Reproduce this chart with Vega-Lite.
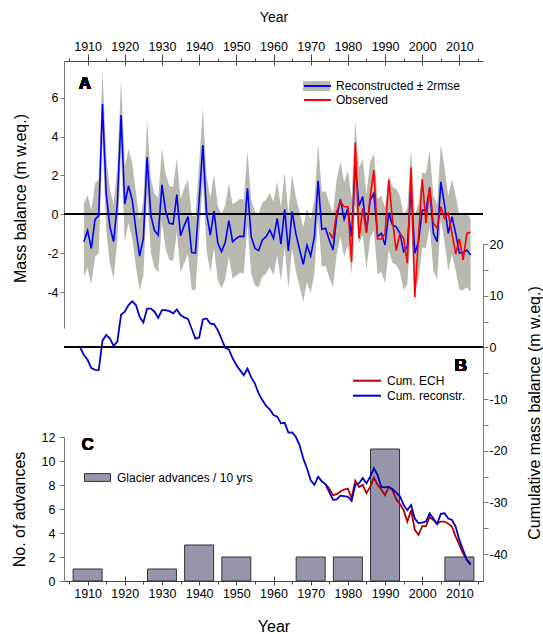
{
"$schema": "https://vega.github.io/schema/vega-lite/v6.json",
"width": 419, "height": 520,
"autosize": "none",
"padding": {"left": 64, "top": 61, "right": 60, "bottom": 53},
"config": {
 "font": "Liberation Sans",
 "view": {"stroke": null},
 "axis": {"grid": false, "labelFont": "Liberation Sans", "titleFont": "Liberation Sans", "labelFontSize": 12.5, "titleFontSize": 16, "titleFontWeight": "normal", "labelColor": "#000", "titleColor": "#000", "domainColor": "#777", "tickColor": "#777"},
 "legend": {"labelFont": "Liberation Sans", "labelFontSize": 12, "labelColor": "#000", "padding": 0, "titlePadding": 0}
},
"datasets": {
 "mb": [
  {"year":1909,"rec":-1.41,"lo":-3.2,"hi":0.56},
  {"year":1910,"rec":-0.84,"lo":-2.75,"hi":0.99},
  {"year":1911,"rec":-1.75,"lo":-3.6,"hi":0.22},
  {"year":1912,"rec":-0.26,"lo":-2.2,"hi":1.6},
  {"year":1913,"rec":-0.07,"lo":-2.0,"hi":1.8},
  {"year":1914,"rec":5.67,"lo":3.8,"hi":7.46},
  {"year":1915,"rec":1.08,"lo":-0.85,"hi":3.0},
  {"year":1916,"rec":-0.64,"lo":-2.55,"hi":1.3},
  {"year":1917,"rec":-1.41,"lo":-3.3,"hi":0.5},
  {"year":1918,"rec":0.56,"lo":-1.35,"hi":2.45},
  {"year":1919,"rec":5.11,"lo":3.2,"hi":6.91},
  {"year":1920,"rec":0.53,"lo":-1.4,"hi":2.5},
  {"year":1921,"rec":1.46,"lo":-0.45,"hi":3.35},
  {"year":1922,"rec":0.74,"lo":-1.2,"hi":2.65},
  {"year":1923,"rec":-0.81,"lo":-2.7,"hi":1.1},
  {"year":1924,"rec":-2.15,"lo":-3.93,"hi":-0.25},
  {"year":1925,"rec":-1.24,"lo":-3.15,"hi":0.7},
  {"year":1926,"rec":2.93,"lo":1.0,"hi":4.85},
  {"year":1927,"rec":-0.04,"lo":-1.95,"hi":1.85},
  {"year":1928,"rec":-0.84,"lo":-2.75,"hi":1.05},
  {"year":1929,"rec":-1.07,"lo":-3.0,"hi":0.85},
  {"year":1930,"rec":1.52,"lo":-0.4,"hi":3.4},
  {"year":1931,"rec":0.14,"lo":-1.8,"hi":2.05},
  {"year":1932,"rec":-0.46,"lo":-2.35,"hi":1.45},
  {"year":1933,"rec":-0.5,"lo":-2.4,"hi":1.4},
  {"year":1934,"rec":1.01,"lo":-0.9,"hi":2.9},
  {"year":1935,"rec":-1.1,"lo":-3.0,"hi":0.8},
  {"year":1936,"rec":-0.58,"lo":-2.5,"hi":1.35},
  {"year":1937,"rec":-0.12,"lo":-2.05,"hi":1.8},
  {"year":1938,"rec":-1.97,"lo":-3.9,"hi":-0.05},
  {"year":1939,"rec":-2.0,"lo":-3.9,"hi":-0.1},
  {"year":1940,"rec":0.7,"lo":-1.2,"hi":2.6},
  {"year":1941,"rec":3.57,"lo":1.7,"hi":5.47},
  {"year":1942,"rec":0.05,"lo":-1.85,"hi":1.95},
  {"year":1943,"rec":-1.07,"lo":-3.0,"hi":0.85},
  {"year":1944,"rec":0.17,"lo":-1.75,"hi":2.05},
  {"year":1945,"rec":-1.46,"lo":-3.35,"hi":0.45},
  {"year":1946,"rec":-1.92,"lo":-3.8,"hi":0.0},
  {"year":1947,"rec":-1.46,"lo":-3.35,"hi":0.45},
  {"year":1948,"rec":-0.33,"lo":-2.2,"hi":1.6},
  {"year":1949,"rec":-1.41,"lo":-3.3,"hi":0.5},
  {"year":1950,"rec":-1.24,"lo":-3.15,"hi":0.65},
  {"year":1951,"rec":-1.12,"lo":-3.0,"hi":0.8},
  {"year":1952,"rec":-1.15,"lo":-3.05,"hi":0.75},
  {"year":1953,"rec":1.34,"lo":-0.55,"hi":3.25},
  {"year":1954,"rec":-1.15,"lo":-3.05,"hi":0.75},
  {"year":1955,"rec":-1.75,"lo":-3.65,"hi":0.15},
  {"year":1956,"rec":-1.87,"lo":-3.75,"hi":0.05},
  {"year":1957,"rec":-1.32,"lo":-3.2,"hi":0.6},
  {"year":1958,"rec":-1.15,"lo":-3.05,"hi":0.75},
  {"year":1959,"rec":-0.81,"lo":-2.7,"hi":1.1},
  {"year":1960,"rec":-1.24,"lo":-3.15,"hi":0.65},
  {"year":1961,"rec":-0.21,"lo":-2.1,"hi":1.7},
  {"year":1962,"rec":-1.53,"lo":-3.45,"hi":0.35},
  {"year":1963,"rec":0.26,"lo":-1.65,"hi":2.15},
  {"year":1964,"rec":-1.89,"lo":-3.8,"hi":0.0},
  {"year":1965,"rec":0.14,"lo":-1.75,"hi":2.05},
  {"year":1966,"rec":-0.98,"lo":-2.9,"hi":0.9},
  {"year":1967,"rec":-1.8,"lo":-3.7,"hi":0.1},
  {"year":1968,"rec":-2.57,"lo":-4.5,"hi":-0.65},
  {"year":1969,"rec":-1.58,"lo":-3.5,"hi":0.3},
  {"year":1970,"rec":-2.14,"lo":-4.05,"hi":-0.25},
  {"year":1971,"rec":-1.15,"lo":-3.05,"hi":0.75},
  {"year":1972,"rec":1.73,"lo":-0.2,"hi":3.65},
  {"year":1973,"rec":-0.77,"lo":-2.7,"hi":1.15},
  {"year":1974,"rec":-0.72,"lo":-2.65,"hi":1.2},
  {"year":1975,"rec":-1.32,"lo":-3.25,"hi":0.6,"obs":-0.93},
  {"year":1976,"rec":-1.84,"lo":-3.75,"hi":0.05,"obs":-1.24},
  {"year":1977,"rec":-0.12,"lo":-2.05,"hi":1.8,"obs":0.14},
  {"year":1978,"rec":0.77,"lo":-1.15,"hi":2.7,"obs":0.65},
  {"year":1979,"rec":-0.26,"lo":-2.2,"hi":1.65,"obs":0.39},
  {"year":1980,"rec":0.31,"lo":-1.6,"hi":2.25,"obs":0.39},
  {"year":1981,"rec":-1.15,"lo":-3.1,"hi":0.8,"obs":-2.44},
  {"year":1982,"rec":2.54,"lo":0.5,"hi":4.76,"obs":3.69},
  {"year":1983,"rec":0.43,"lo":-1.5,"hi":2.4,"obs":-1.24},
  {"year":1984,"rec":0.91,"lo":-1.05,"hi":2.85,"obs":0.31},
  {"year":1985,"rec":-0.89,"lo":-2.85,"hi":1.05,"obs":-0.95},
  {"year":1986,"rec":0.73,"lo":-1.2,"hi":2.7,"obs":0.91},
  {"year":1987,"rec":1.08,"lo":-0.85,"hi":3.1,"obs":2.28},
  {"year":1988,"rec":-1.15,"lo":-3.1,"hi":0.8,"obs":-1.27},
  {"year":1989,"rec":-0.98,"lo":-2.95,"hi":0.95,"obs":-1.27},
  {"year":1990,"rec":-1.58,"lo":-3.55,"hi":0.35,"obs":-0.98},
  {"year":1991,"rec":0.08,"lo":-1.85,"hi":2.0,"obs":1.77},
  {"year":1992,"rec":-0.55,"lo":-2.5,"hi":1.4,"obs":-0.29},
  {"year":1993,"rec":-0.64,"lo":-2.6,"hi":1.3,"obs":-1.87},
  {"year":1994,"rec":-0.98,"lo":-2.95,"hi":0.95,"obs":-0.98},
  {"year":1995,"rec":-1.92,"lo":-3.9,"hi":0.0,"obs":-1.24},
  {"year":1996,"rec":-1.67,"lo":-3.6,"hi":0.3,"obs":-2.52},
  {"year":1997,"rec":1.42,"lo":-0.5,"hi":3.35,"obs":2.42},
  {"year":1998,"rec":-2.0,"lo":-4.07,"hi":-0.05,"obs":-4.27},
  {"year":1999,"rec":-1.41,"lo":-3.35,"hi":0.55,"obs":-1.15},
  {"year":2000,"rec":0.22,"lo":-1.7,"hi":2.15,"obs":1.8},
  {"year":2001,"rec":0.19,"lo":-1.75,"hi":2.1,"obs":-0.46},
  {"year":2002,"rec":1.34,"lo":-0.6,"hi":3.3,"obs":1.42},
  {"year":2003,"rec":-0.98,"lo":-2.9,"hi":0.95,"obs":-0.46},
  {"year":2004,"rec":-1.41,"lo":-3.35,"hi":0.5,"obs":-0.72},
  {"year":2005,"rec":1.68,"lo":-0.25,"hi":3.6,"obs":0.39},
  {"year":2006,"rec":0.48,"lo":-1.45,"hi":2.4,"obs":-0.21},
  {"year":2007,"rec":-0.98,"lo":-2.9,"hi":0.95,"obs":0.05},
  {"year":2008,"rec":-0.12,"lo":-2.05,"hi":1.8,"obs":-0.98},
  {"year":2009,"rec":-0.98,"lo":-2.9,"hi":0.95,"obs":-2.04},
  {"year":2010,"rec":-2.0,"lo":-3.9,"hi":-0.05,"obs":-1.27},
  {"year":2011,"rec":-1.97,"lo":-3.9,"hi":-0.05,"obs":-2.35},
  {"year":2012,"rec":-1.84,"lo":-3.75,"hi":0.05,"obs":-0.98},
  {"year":2013,"rec":-2.09,"lo":-4.0,"hi":-0.2,"obs":-0.93}
 ],
 "cum": [
  {"year":1908,"rec":0},{"year":1909,"rec":-1.5},{"year":1910,"rec":-2.4},{"year":1911,"rec":-4.0},
  {"year":1912,"rec":-4.35},{"year":1913,"rec":-4.4},{"year":1914,"rec":1.3},{"year":1915,"rec":2.4},
  {"year":1916,"rec":1.7},{"year":1917,"rec":0.3},{"year":1918,"rec":1.1},{"year":1919,"rec":6.3},
  {"year":1920,"rec":6.9},{"year":1921,"rec":8.2},{"year":1922,"rec":8.9},{"year":1923,"rec":8.2},
  {"year":1924,"rec":5.9},{"year":1925,"rec":4.8},{"year":1926,"rec":7.5},{"year":1927,"rec":7.5},
  {"year":1928,"rec":6.9},{"year":1929,"rec":5.7},{"year":1930,"rec":7.2},{"year":1931,"rec":7.2},
  {"year":1932,"rec":7.0},{"year":1933,"rec":6.6},{"year":1934,"rec":7.35},{"year":1935,"rec":6.25},
  {"year":1936,"rec":5.8},{"year":1937,"rec":5.5},{"year":1938,"rec":3.6},{"year":1939,"rec":1.7},
  {"year":1940,"rec":1.9},{"year":1941,"rec":5.4},{"year":1942,"rec":5.6},{"year":1943,"rec":4.6},
  {"year":1944,"rec":4.5},{"year":1945,"rec":3.35},{"year":1946,"rec":1.7},{"year":1947,"rec":-0.1},
  {"year":1948,"rec":-0.4},{"year":1949,"rec":-2.1},{"year":1950,"rec":-3.4},{"year":1951,"rec":-4.4},
  {"year":1952,"rec":-5.4},{"year":1953,"rec":-4.1},{"year":1954,"rec":-5.8},{"year":1955,"rec":-7.0},
  {"year":1956,"rec":-8.9},{"year":1957,"rec":-10.2},{"year":1958,"rec":-11.35},{"year":1959,"rec":-12.0},
  {"year":1960,"rec":-13.1},{"year":1961,"rec":-13.4},{"year":1962,"rec":-14.7},{"year":1963,"rec":-14.6},
  {"year":1964,"rec":-16.5},{"year":1965,"rec":-16.45},{"year":1966,"rec":-17.3},{"year":1967,"rec":-18.9},
  {"year":1968,"rec":-21.5},{"year":1969,"rec":-23.4},{"year":1970,"rec":-25.7},{"year":1971,"rec":-26.6},
  {"year":1972,"rec":-25.0},{"year":1973,"rec":-25.9},{"year":1974,"rec":-26.5,"ech":-26.5},
  {"year":1975,"rec":-28.0,"ech":-27.3},{"year":1976,"rec":-29.5,"ech":-28.6},{"year":1977,"rec":-29.4,"ech":-28.4},
  {"year":1978,"rec":-28.7,"ech":-27.9},{"year":1979,"rec":-28.8,"ech":-27.5},{"year":1980,"rec":-28.9,"ech":-27.3},
  {"year":1981,"rec":-29.7,"ech":-29.2},{"year":1982,"rec":-26.6,"ech":-25.8},{"year":1983,"rec":-26.3,"ech":-27.0},
  {"year":1984,"rec":-25.3,"ech":-26.6},{"year":1985,"rec":-26.3,"ech":-28.2},{"year":1986,"rec":-25.0,"ech":-27.0},
  {"year":1987,"rec":-23.4,"ech":-25.2},{"year":1988,"rec":-24.7,"ech":-26.6},{"year":1989,"rec":-27.0,"ech":-27.5},
  {"year":1990,"rec":-27.1,"ech":-28.6},{"year":1991,"rec":-27.0,"ech":-27.0},{"year":1992,"rec":-27.4,"ech":-27.6},
  {"year":1993,"rec":-28.1,"ech":-29.4},{"year":1994,"rec":-28.8,"ech":-30.3},{"year":1995,"rec":-30.5,"ech":-31.5},
  {"year":1996,"rec":-31.5,"ech":-33.7},{"year":1997,"rec":-30.5,"ech":-31.5},{"year":1998,"rec":-33.1,"ech":-35.3},
  {"year":1999,"rec":-34.0,"ech":-36.3},{"year":2000,"rec":-33.9,"ech":-34.6},{"year":2001,"rec":-33.7,"ech":-34.6},
  {"year":2002,"rec":-32.1,"ech":-32.8},{"year":2003,"rec":-33.1,"ech":-33.4},{"year":2004,"rec":-34.2,"ech":-34.1},
  {"year":2005,"rec":-32.2,"ech":-33.7},{"year":2006,"rec":-32.1,"ech":-33.7},{"year":2007,"rec":-33.1,"ech":-34.1},
  {"year":2008,"rec":-33.4,"ech":-34.7},{"year":2009,"rec":-34.7,"ech":-36.6},{"year":2010,"rec":-37.3,"ech":-38.2},
  {"year":2011,"rec":-39.2,"ech":-39.9},{"year":2012,"rec":-41.1,"ech":-41.1},{"year":2013,"rec":-42.1,"ech":-41.8}
 ],
 "adv": [
  {"decade":1910,"n":1},{"decade":1930,"n":1},{"decade":1940,"n":3},{"decade":1950,"n":2},
  {"decade":1970,"n":2},{"decade":1980,"n":2},{"decade":1990,"n":11},{"decade":2010,"n":2}
 ]
},
"layer": [
 {
  "data": {"name": "adv"},
  "mark": {"type": "bar", "width": 29, "stroke": "#333", "strokeWidth": 1},
  "encoding": {
   "x": {"field": "decade", "type": "quantitative", "scale": {"domain": [1905, 2015], "nice": false, "zero": false},
    "axis": {"orient": "bottom", "values": [1910,1920,1930,1940,1950,1960,1970,1980,1990,2000,2010], "labelExpr": "'' + datum.value", "tickSize": 4, "labelPadding": 2, "domainColor": "#444", "tickColor": "#444", "title": "Year", "titleX": 209.5, "titleY": 50, "titleBaseline": "alphabetic", "titleAlign": "center"}},
   "y": {"field": "n", "type": "quantitative", "scale": {"domain": [0, 12], "range": [520, 376], "nice": false},
    "axis": {"orient": "left", "values": [0,2,4,6,8,10,12], "labelExpr": "'' + datum.value", "tickSize": 5, "labelPadding": 4, "title": "No. of advances", "titleX": -45, "titleY": 448, "titleAngle": 270, "titleBaseline": "middle", "titleAlign": "center"}},
   "fill": {"datum": "Glacier advances / 10 yrs", "scale": {"domain": ["Glacier advances / 10 yrs"], "range": ["#9595ab"]},
    "legend": {"orient": "none", "legendX": 20, "legendY": 403, "title": null, "symbolType": "M-1,-0.3H1V0.3H-1Z", "symbolSize": 676, "symbolStrokeColor": "#333", "symbolStrokeWidth": 1, "symbolOpacity": 1, "labelOffset": 6}}
  }
 },
 {
  "data": {"name": "adv"},
  "mark": {"type": "text", "text": "C", "fontSize": 17, "fontWeight": "bold", "font": "Liberation Sans"},
  "encoding": {
   "x": {"datum": 1910, "type": "quantitative", "axis": {"orient": "bottom", "values": [1905,1915,1925,1935,1945,1955,1965,1975,1985,1995,2005,2015], "labels": false, "domain": false, "tickSize": 3, "tickColor": "#444", "title": null}},
   "y": {"datum": 11.3, "type": "quantitative", "scale": {"domain": [0, 12], "range": [520, 376], "nice": false}, "axis": null}
  }
 },
 {
  "data": {"name": "mb"},
  "mark": {"type": "area", "opacity": 1},
  "encoding": {
   "x": {"field": "year", "type": "quantitative",
    "axis": {"orient": "top", "values": [1910,1920,1930,1940,1950,1960,1970,1980,1990,2000,2010], "labelExpr": "'' + datum.value", "tickSize": 7, "labelPadding": 1, "domainColor": "#444", "tickColor": "#444", "title": "Year", "titleFontSize": 14, "titleX": 209.5, "titleY": -40, "titleBaseline": "alphabetic", "titleAlign": "center"}},
   "y": {"field": "lo", "type": "quantitative", "scale": {"domain": [-5.85, 7.89], "range": [267, 0], "nice": false, "zero": false},
    "axis": {"orient": "left", "values": [-4,-2,0,2,4,6], "labelExpr": "'' + datum.value", "tickSize": 4, "labelPadding": 2, "title": "Mass balance (m w.eq.)", "titleX": -44, "titleY": 137, "titleAngle": 270, "titleBaseline": "middle", "titleAlign": "center"}},
   "y2": {"field": "hi"},
   "fill": {"datum": "Reconstructed ± 2rmse", "scale": {"domain": ["Reconstructed ± 2rmse"], "range": ["#b9b9b0"]},
    "legend": {"orient": "none", "legendX": 239, "legendY": 11.5, "title": null, "symbolType": "M-1,-0.37H1V0.37H-1Z", "symbolSize": 729, "symbolStrokeWidth": 0, "symbolOpacity": 1, "labelExpr": "''", "labelOffset": 4}}
  }
 },
 {
  "data": {"name": "mb"},
  "mark": {"type": "rule", "color": "#000", "strokeWidth": 1},
  "encoding": {"y": {"datum": 0, "type": "quantitative", "scale": {"domain": [-5.85, 7.89], "range": [267, 0], "nice": false, "zero": false}, "axis": null}}
 },
 {
  "data": {"name": "mb"},
  "mark": {"type": "line", "strokeWidth": 1.6},
  "encoding": {
   "x": {"field": "year", "type": "quantitative", "axis": {"orient": "top", "values": [1905,1915,1925,1935,1945,1955,1965,1975,1985,1995,2005,2015], "labels": false, "domain": false, "tickSize": 3, "tickColor": "#444", "title": null}},
   "y": {"field": "rec", "type": "quantitative", "scale": {"domain": [-5.85, 7.89], "range": [267, 0], "nice": false, "zero": false}, "axis": null},
   "stroke": {"datum": "Reconstructed ± 2rmse", "scale": {"domain": ["Reconstructed ± 2rmse"], "range": ["#0000ff"]},
    "legend": {"orient": "none", "legendX": 239, "legendY": 10.5, "title": null, "symbolType": "stroke", "symbolSize": 729, "symbolStrokeWidth": 2, "labelOffset": 4}}
  }
 },
 {
  "data": {"name": "mb"},
  "transform": [{"filter": "isValid(datum.obs)"}],
  "mark": {"type": "line", "strokeWidth": 1.6},
  "encoding": {
   "x": {"field": "year", "type": "quantitative", "axis": {"orient": "top", "values": [1910,1920,1930,1940,1950,1960,1970,1980,1990,2000,2010], "labels": false, "domain": false, "tickSize": -4, "tickColor": "#444", "title": null}},
   "y": {"field": "obs", "type": "quantitative", "scale": {"domain": [-5.85, 7.89], "range": [267, 0], "nice": false, "zero": false}, "axis": null},
   "stroke": {"datum": "Observed", "scale": {"domain": ["Observed"], "range": ["#ff0000"]},
    "legend": {"orient": "none", "legendX": 239, "legendY": 24.5, "title": null, "symbolType": "stroke", "symbolSize": 729, "symbolStrokeWidth": 2, "labelOffset": 4}}
  }
 },
 {
  "data": {"name": "mb"},
  "mark": {"type": "text", "text": "A", "fontSize": 17, "fontWeight": "bold", "font": "Liberation Sans"},
  "encoding": {
   "x": {"datum": 1909.3, "type": "quantitative", "axis": null},
   "y": {"datum": 6.7, "type": "quantitative", "scale": {"domain": [-5.85, 7.89], "range": [267, 0], "nice": false, "zero": false}, "axis": null}
  }
 },
 {
  "data": {"name": "cum"},
  "mark": {"type": "rule", "color": "#000", "strokeWidth": 1},
  "encoding": {"y": {"datum": 0, "type": "quantitative", "scale": {"domain": [-45.2, 20], "range": [520, 183], "nice": false, "zero": false},
    "axis": {"orient": "right", "values": [20,15,10,5,0,-5,-10,-15,-20,-25,-30,-35,-40], "labelExpr": "datum.value % 10 == 0 ? '' + datum.value : ''", "tickSize": 5, "labelPadding": 1, "title": "Cumulative mass balance (m w.eq.)", "titleX": 51, "titleY": 351.5, "titleAngle": 270, "titleBaseline": "middle", "titleAlign": "center"}}}
 },
 {
  "data": {"name": "cum"},
  "transform": [{"filter": "isValid(datum.ech)"}],
  "mark": {"type": "line", "strokeWidth": 1.8},
  "encoding": {
   "x": {"field": "year", "type": "quantitative", "axis": null},
   "y": {"field": "ech", "type": "quantitative", "scale": {"domain": [-45.2, 20], "range": [520, 183], "nice": false, "zero": false}, "axis": null},
   "stroke": {"datum": "Cum. ECH", "scale": {"domain": ["Cum. ECH"], "range": ["#b00000"]},
    "legend": {"orient": "none", "legendX": 288, "legendY": 304.7, "title": null, "symbolType": "stroke", "symbolSize": 784, "symbolStrokeWidth": 2, "labelOffset": 5}}
  }
 },
 {
  "data": {"name": "cum"},
  "mark": {"type": "line", "strokeWidth": 1.8},
  "encoding": {
   "x": {"field": "year", "type": "quantitative", "axis": {"orient": "bottom", "values": [1910,1920,1930,1940,1950,1960,1970,1980,1990,2000,2010], "labels": false, "domain": false, "tickSize": -5, "tickColor": "#444", "title": null}},
   "y": {"field": "rec", "type": "quantitative", "scale": {"domain": [-45.2, 20], "range": [520, 183], "nice": false, "zero": false}, "axis": null},
   "stroke": {"datum": "Cum. reconstr.", "scale": {"domain": ["Cum. reconstr."], "range": ["#0000c8"]},
    "legend": {"orient": "none", "legendX": 288, "legendY": 319.7, "title": null, "symbolType": "stroke", "symbolSize": 784, "symbolStrokeWidth": 2, "labelOffset": 5}}
  }
 },
 {
  "data": {"name": "cum"},
  "mark": {"type": "text", "text": "B", "fontSize": 17, "fontWeight": "bold", "font": "Liberation Sans"},
  "encoding": {
   "x": {"datum": 2010.4, "type": "quantitative", "axis": null},
   "y": {"datum": -3.67, "type": "quantitative", "scale": {"domain": [-45.2, 20], "range": [520, 183], "nice": false, "zero": false}, "axis": null}
  }
 }
],
"resolve": {"scale": {"y": "independent", "fill": "independent", "stroke": "independent"}, "axis": {"x": "independent", "y": "independent"}, "legend": {"fill": "independent", "stroke": "independent"}}
}
